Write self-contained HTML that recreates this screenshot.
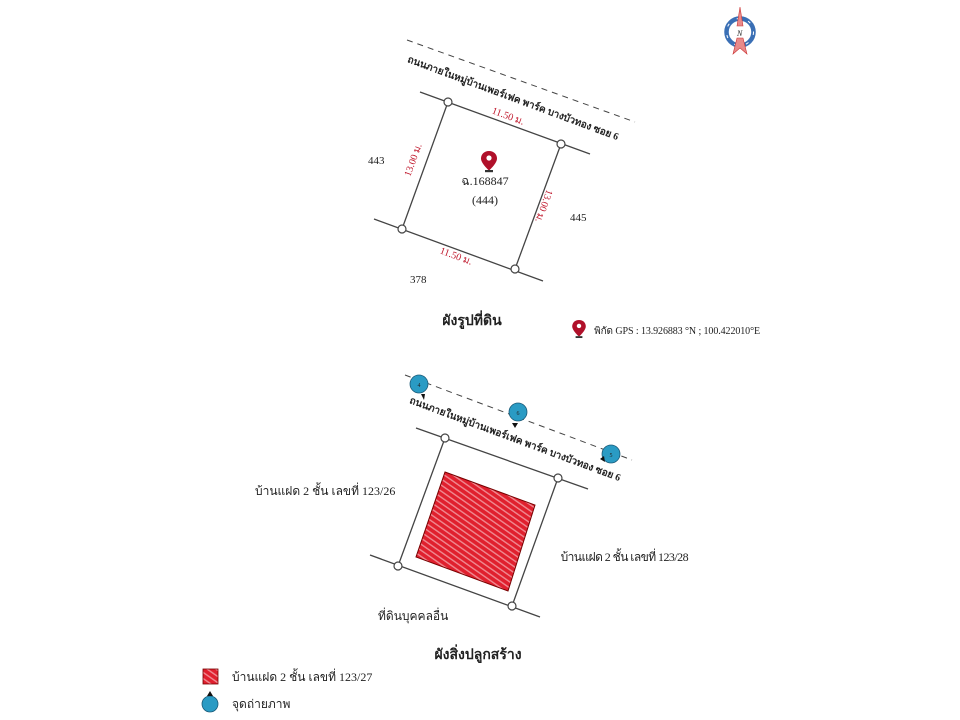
<!DOCTYPE html>
<html><head><meta charset="utf-8"><style>
body{margin:0;background:#fff}
svg{display:block}
text{font-family:"Liberation Serif","Noto Serif CJK SC","Noto Sans CJK SC",serif;fill:#222}
</style></head><body>
<svg width="960" height="720" viewBox="0 0 960 720" xmlns="http://www.w3.org/2000/svg">
<defs>
<pattern id="h" width="5" height="5" patternUnits="userSpaceOnUse" patternTransform="rotate(-55)">
<rect width="5" height="5" fill="#e0202e"/><rect width="1.4" height="5" fill="#f08a92"/>
</pattern>
<g id="pin"><path d="M0 0c-5 0-8 3.5-8 7.5 0 5 8 12 8 12s8-7 8-12C8 3.5 5 0 0 0z" fill="#b0102a"/><circle cx="0" cy="7" r="2.6" fill="#fff"/><rect x="-4" y="19" width="8" height="2.2" fill="#333"/></g>
</defs>
<g transform="translate(740,32)">
<circle r="13.5" fill="none" stroke="#3a6fb5" stroke-width="4.5"/>
<circle r="13.5" fill="none" stroke="#fff" stroke-width="1" stroke-dasharray="3 9"/>
<path d="M-3 -6 L0 -25 L3 -6Z" fill="#e88a8a" stroke="#c33" stroke-width=".6"/>
<path d="M-7 22 L-3 6 L3 6 L7 22 L0 16Z" fill="#e88a8a" stroke="#c33" stroke-width=".6"/>
<text x="-3" y="4" font-size="8" font-style="italic">N</text>
</g>
<g stroke="#444" fill="none" stroke-width="1.3">
<line x1="407" y1="40" x2="635" y2="122" stroke-dasharray="6 5" stroke-width="1"/>
<line x1="420" y1="92" x2="590" y2="154"/>
<line x1="374" y1="219" x2="543" y2="281"/>
<line x1="448" y1="102" x2="402" y2="229"/>
<line x1="561" y1="144" x2="515" y2="269"/>
</g>
<g fill="#fff" stroke="#444" stroke-width="1.2">
<circle cx="448" cy="102" r="4"/><circle cx="561" cy="144" r="4"/><circle cx="515" cy="269" r="4"/><circle cx="402" cy="229" r="4"/>
</g>
<text transform="translate(512,101) rotate(20.4)" text-anchor="middle" font-size="10" font-weight="bold">ถนนภายในหมู่บ้านเพอร์เฟค พาร์ค บางบัวทอง ซอย 6</text>
<g font-size="10">
<text transform="translate(507,119) rotate(20.4)" text-anchor="middle" style="fill:#c0182c">11.50 ม.</text>
<text transform="translate(455,259) rotate(20.4)" text-anchor="middle" style="fill:#c0182c">11.50 ม.</text>
<text transform="translate(416,161) rotate(-70)" text-anchor="middle" style="fill:#c0182c">13.00 ม.</text>
<text transform="translate(541,205) rotate(110)" text-anchor="middle" style="fill:#c0182c">13.00 ม.</text>
</g>
<text x="368" y="164" font-size="11">443</text>
<text x="570" y="221" font-size="11">445</text>
<text x="410" y="283" font-size="11">378</text>
<use href="#pin" x="489" y="151"/>
<text x="485" y="185" font-size="12" text-anchor="middle">ฉ.168847</text>
<text x="485" y="204" font-size="12" text-anchor="middle">(444)</text>
<text x="472" y="325" font-size="14" font-weight="bold" text-anchor="middle">ผังรูปที่ดิน</text>
<use href="#pin" transform="translate(579,320) scale(.85)"/>
<text x="594" y="334" font-size="10" textLength="166">พิกัด GPS : 13.926883 °N ; 100.422010°E</text>
<g stroke="#444" fill="none" stroke-width="1.3">
<line x1="405" y1="375" x2="632" y2="460" stroke-dasharray="6 5" stroke-width="1"/>
<line x1="416" y1="428" x2="588" y2="489"/>
<line x1="370" y1="555" x2="540" y2="617"/>
<line x1="445" y1="438" x2="398" y2="566"/>
<line x1="558" y1="478" x2="512" y2="606"/>
</g>
<polygon points="445,472 535,505 508,591 416,557" fill="url(#h)" stroke="#700" stroke-width="1"/>
<g fill="#fff" stroke="#444" stroke-width="1.2">
<circle cx="445" cy="438" r="4"/><circle cx="558" cy="478" r="4"/><circle cx="512" cy="606" r="4"/><circle cx="398" cy="566" r="4"/>
</g>
<text transform="translate(514,442) rotate(20.4)" text-anchor="middle" font-size="10" font-weight="bold">ถนนภายในหมู่บ้านเพอร์เฟค พาร์ค บางบัวทอง ซอย 6</text>
<g stroke="#1a5a78" stroke-width=".8">
<circle cx="419" cy="384" r="9" fill="#2a9bc4"/><circle cx="518" cy="412" r="9" fill="#2a9bc4"/><circle cx="611" cy="454" r="9" fill="#2a9bc4"/>
</g>
<path d="M421 394 l4 0 l-1 6z M512 423 l6 0 l-3 5z M600 459 l4 -3 l1 6z" fill="#111"/>
<text x="419" y="387" font-size="6" text-anchor="middle">4</text>
<text x="518" y="415" font-size="6" text-anchor="middle">6</text>
<text x="611" y="457" font-size="6" text-anchor="middle">5</text>
<text x="255" y="495" font-size="12">บ้านแฝด 2 ชั้น เลขที่ 123/26</text>
<text x="560" y="561" font-size="12" textLength="128">บ้านแฝด 2 ชั้น เลขที่ 123/28</text>
<text x="378" y="620" font-size="12">ที่ดินบุคคลอื่น</text>
<text x="478" y="659" font-size="14" font-weight="bold" text-anchor="middle">ผังสิ่งปลูกสร้าง</text>
<rect x="203" y="669" width="15" height="15" fill="url(#h)" stroke="#700" stroke-width=".8"/>
<text x="232" y="681" font-size="12">บ้านแฝด 2 ชั้น เลขที่ 123/27</text>
<circle cx="210" cy="704" r="8" fill="#2a9bc4" stroke="#1a5a78" stroke-width=".8"/>
<path d="M207 696 l3 -5 l3 5z" fill="#111"/>
<text x="232" y="708" font-size="12">จุดถ่ายภาพ</text>
</svg>
</body></html>
